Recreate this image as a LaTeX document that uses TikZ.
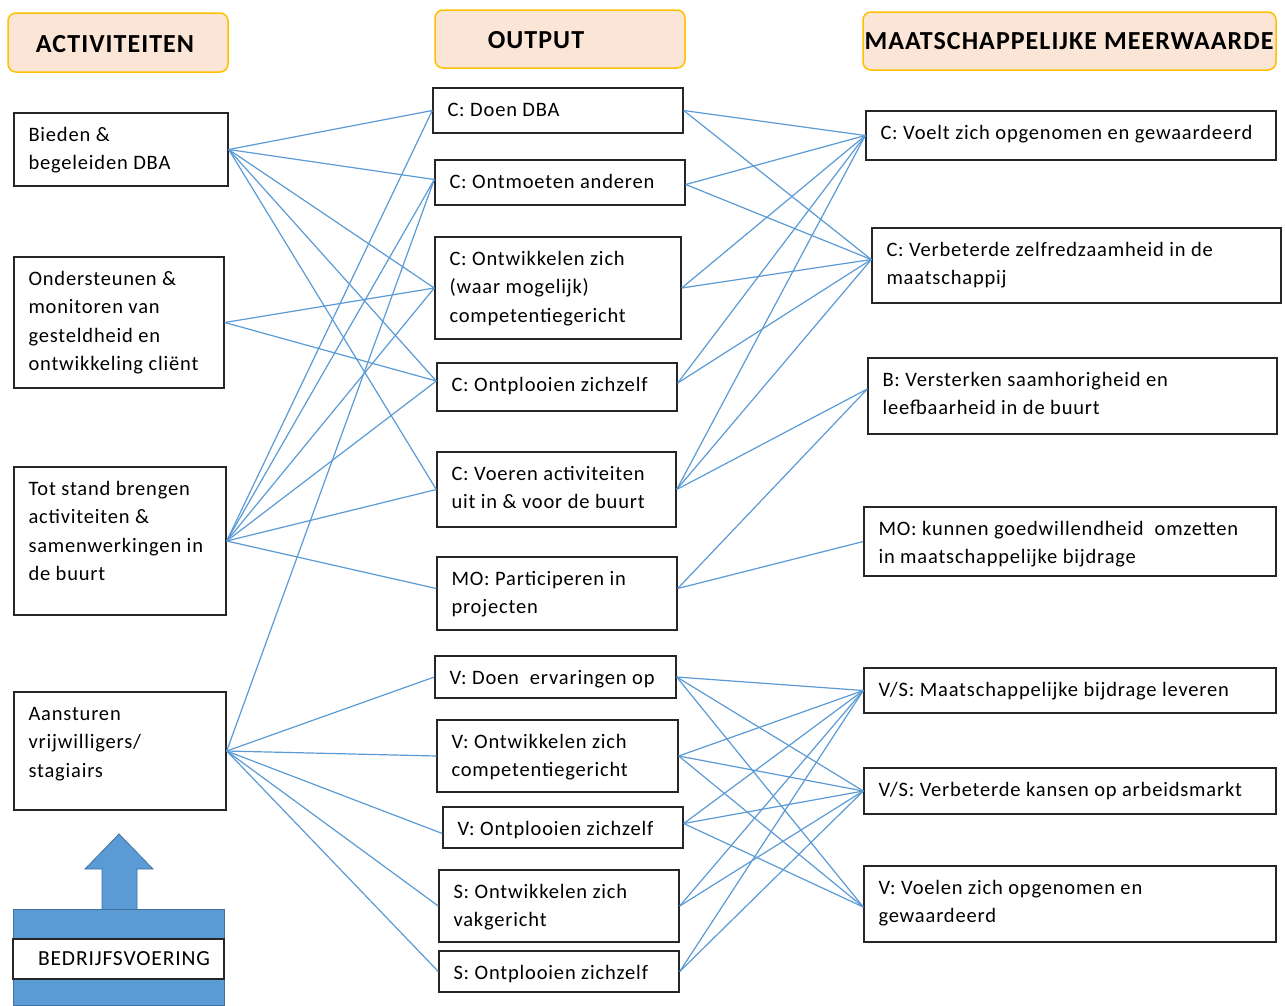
\documentclass[tikz,border=0pt]{standalone}
\usepackage{fontspec}
\setmainfont{Carlito}[LetterSpace=4]
\usetikzlibrary{fit}
\definecolor{lnblue}{HTML}{5B9BD5}
\definecolor{hdrfill}{HTML}{FBE5D6}
\definecolor{hdrdraw}{HTML}{FFC000}
\definecolor{boxdraw}{HTML}{262626}
\definecolor{arrdraw}{HTML}{41719C}
\newcommand\mybox[6]{%
  \node[box, fit={(#2,#3) (#4,#5)}] (#1) {};
  \node[lbl] (#1t) at ([xshift=15pt,yshift=-12.5pt]#1.north west) {\rule{0pt}{16pt}#6};
  \coordinate (#1L) at (#1.west);
  \coordinate (#1R) at (#1.east);}
\begin{document}
\begin{tikzpicture}[x=1pt,y=-1pt,
  box/.style={draw=boxdraw, line width=1.4pt, inner sep=0pt, fill=white},
  hdr/.style={draw=hdrdraw, fill=hdrfill, line width=1.5pt, rounded corners=8pt, inner sep=0pt},
  lbl/.style={anchor=north west, inner sep=0pt, align=left, font=\fontsize{20.5}{28.5}\selectfont, text=black},
  hlbl/.style={inner sep=0pt, font=\fontsize{26}{30}\selectfont\bfseries, text=black},
  link/.style={draw=lnblue, line width=1.2pt}]
\useasboundingbox[fill=white] (0,0) rectangle (1285,1005);

% headers
\node[hdr, fit={(8,13) (228,72)}] (h1) {};
\node[hlbl] (h1t) at (115,44) {ACTIVITEITEN};
\node[hdr, fit={(435,10) (685,68)}] (h2) {};
\node[hlbl] (h2t) at (536,40) {OUTPUT};
\node[hdr, fit={(863,12) (1276,70)}] (h3) {};
\node[hlbl] (h3t) at (1069,41) {MAATSCHAPPELIJKE MEERWAARDE};

% activities
\mybox{a1}{14}{113}{228}{186}{Bieden \&\\begeleiden DBA}
\mybox{a2}{14}{257}{224}{388}{Ondersteunen \&\\monitoren van\\gesteldheid en\\ontwikkeling cliënt}
\mybox{a3}{14}{467}{226}{615}{Tot stand brengen\\activiteiten \&\\samenwerkingen in\\de buurt}
\mybox{a4}{14}{692}{226}{810}{Aansturen\\vrijwilligers/\\stagiairs}

% output
\mybox{o1}{433}{88}{683}{133}{C: Doen DBA}
\mybox{o2}{435}{160}{685}{205}{C: Ontmoeten anderen}
\mybox{o3}{435}{237}{681}{339}{C: Ontwikkelen zich\\(waar mogelijk)\\competentiegericht}
\mybox{o4}{437}{363}{677}{411}{C: Ontplooien zichzelf}
\mybox{o5}{437}{452}{676}{527}{C: Voeren activiteiten\\uit in \& voor de buurt}
\mybox{o6}{437}{557}{677}{630}{MO: Participeren in\\projecten}
\mybox{o7}{435}{656}{676}{698}{V: Doen\ \ ervaringen op}
\mybox{o8}{437}{720}{678}{792}{V: Ontwikkelen zich\\competentiegericht}
\mybox{o9}{443}{807}{683}{848}{V: Ontplooien zichzelf}
\mybox{o10}{439}{870}{679}{942}{S: Ontwikkelen zich\\vakgericht}
\mybox{o11}{439}{951}{679}{992}{S: Ontplooien zichzelf}

% results
\mybox{r1}{866}{111}{1276}{160}{C: Voelt zich opgenomen en gewaardeerd}
\mybox{r2}{872}{228}{1281}{303}{C: Verbeterde zelfredzaamheid in de\\maatschappij}
\mybox{r3}{868}{358}{1277}{434}{B: Versterken saamhorigheid en\\leefbaarheid in de buurt}
\mybox{r4}{864}{507}{1276}{576}{MO: kunnen goedwillendheid\ \ omzetten\\in maatschappelijke bijdrage}
\mybox{r5}{864}{668}{1276}{713}{V/S: Maatschappelijke bijdrage leveren}
\mybox{r6}{864}{768}{1276}{814}{V/S: Verbeterde kansen op arbeidsmarkt}
\mybox{r7}{864}{866}{1276}{942}{V: Voelen zich opgenomen en\\gewaardeerd}

% connector end points that sit off the side midpoints
\coordinate (o2L) at ([yshift=3pt]o2.west);
\coordinate (o2R) at ([yshift=-2pt]o2.east);
\coordinate (o4L) at ([yshift=6pt]o4.west);
\coordinate (o4R) at ([yshift=4pt]o4.east);
\coordinate (o6L) at ([yshift=5pt]o6.west);
\coordinate (o6R) at ([yshift=5pt]o6.east);
\coordinate (o9L) at ([yshift=-6pt]o9.west);
\coordinate (o9R) at ([yshift=4pt]o9.east);
\coordinate (r2L) at ([yshift=6pt]r2.west);
\coordinate (r3L) at ([yshift=7pt]r3.west);
\coordinate (r7L) at ([yshift=-3pt]r7.west);

% bedrijfsvoering
\draw[fill=lnblue, draw=arrdraw, line width=0.8pt] (102,912) -- (102,869) -- (85,869) -- (119,834) -- (153,869) -- (137,869) -- (137,912) -- cycle;
\node[fill=lnblue, draw=arrdraw, line width=0.6pt, inner sep=0pt, fit={(13,909) (224,1005)}] (bv) {};
\node[box, fit={(13,939) (224,979)}] (bvbox) {};
\node[inner sep=0pt, font=\fontsize{21.5}{24}\selectfont] (bvt) at (124,959) {BEDRIJFSVOERING};

% connectors
\foreach \s/\t in {a1/o1,a1/o2,a1/o3,a1/o4,a1/o5,
  a2/o3,a2/o4,
  a3/o1,a3/o2,a3/o3,a3/o4,a3/o5,a3/o6,
  a4/o2,a4/o7,a4/o8,a4/o9,a4/o10,a4/o11}
  \draw[link] (\s R) -- (\t L);
\foreach \s/\t in {o1/r1,o1/r2,o2/r1,o2/r2,o3/r1,o3/r2,o4/r1,o4/r2,
  o5/r1,o5/r2,o5/r3,o6/r3,o6/r4,
  o7/r5,o7/r6,o7/r7,o8/r5,o8/r6,o8/r7,o9/r5,o9/r6,o9/r7,
  o10/r5,o10/r6,o11/r5,o11/r6}
  \draw[link] (\s R) -- (\t L);
\end{tikzpicture}
\end{document}
